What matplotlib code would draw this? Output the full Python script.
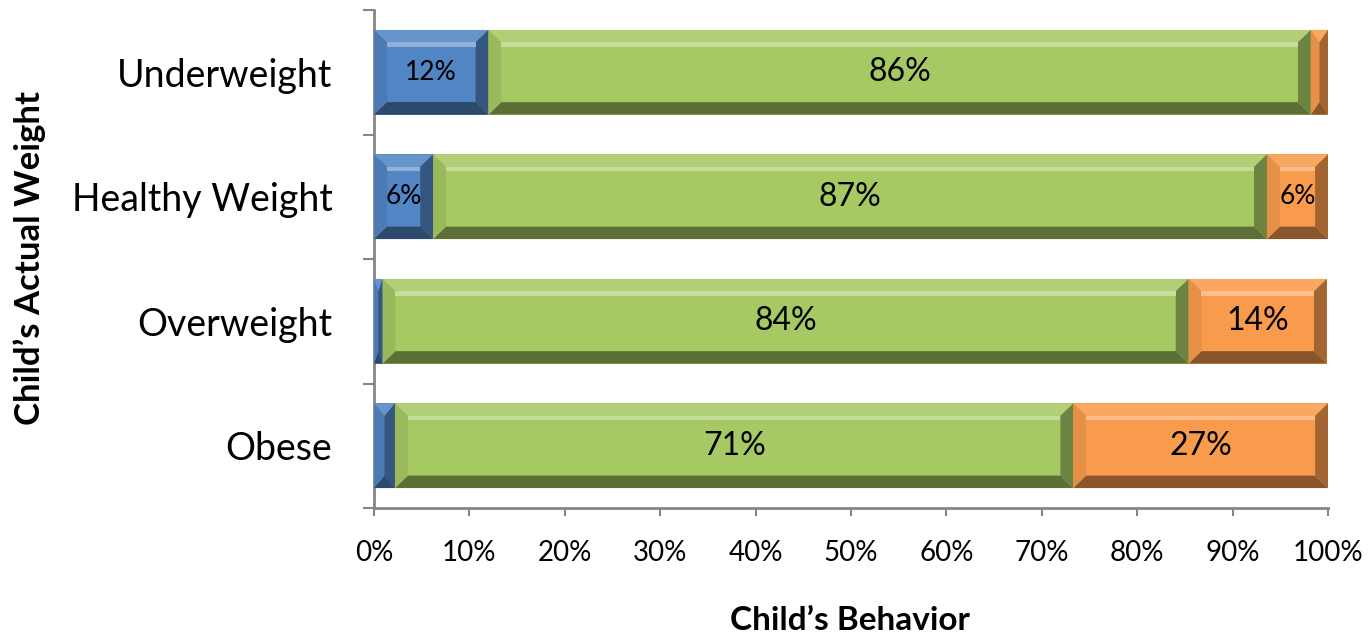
import matplotlib.pyplot as plt
from matplotlib.patches import Polygon
from matplotlib.colors import to_rgb
import numpy as np

plt.rcParams['font.family'] = ['Lato', 'DejaVu Sans']

# Survey shares per weight group (percent)
categories = ["Underweight", "Healthy Weight", "Overweight", "Obese"]
series_names = ["Under", "About right", "Over"]
under = [12.0, 6.2, 0.9, 2.2]
about_right = [86.2, 87.4, 84.49, 71.1]
over = [1.8, 6.4, 14.49, 26.7]
x_ticks = [0, 10, 20, 30, 40, 50, 60, 70, 80, 90, 100]

colors = ["#5185C4", "#A7C964", "#F99B4D"]


def mix(c, other, t):
    c = np.array(to_rgb(c))
    return tuple(c * (1 - t) + np.array(other) * t)


def add_bevel(ax, bar, color, bx=1.35, by=0.1):
    # fake Excel bevel: four trapezoids around an inset face
    # (y axis is inverted, so the smaller y value is the visual top)
    x0, w = bar.get_x(), bar.get_width()
    y0, h = bar.get_y(), bar.get_height()
    x1, y1 = x0 + w, y0 + h
    ix = min(bx, w / 2)
    iy = by
    top_l, top_r, bot_r, bot_l = (x0, y0), (x1, y0), (x1, y1), (x0, y1)
    itl, itr = (x0 + ix, y0 + iy), (x1 - ix, y0 + iy)
    ibr, ibl = (x1 - ix, y1 - iy), (x0 + ix, y1 - iy)
    white, black = (1, 1, 1), (0, 0, 0)
    faces = [
        ([top_l, top_r, itr, itl], mix(color, white, 0.12)),   # top
        ([bot_l, bot_r, ibr, ibl], mix(color, black, 0.45)),   # bottom
        ([top_l, itl, ibl, bot_l], mix(color, black, 0.08)),   # left
        ([top_r, bot_r, ibr, itr], mix(color, black, 0.35)),   # right
    ]
    for pts, fc in faces:
        ax.add_patch(Polygon(pts, closed=True, facecolor=fc, edgecolor='none', zorder=3))
    # thin highlight just below the top bevel
    if w > 2 * bx:
        hl = [itl, itr, (itr[0], itr[1] + 0.035), (itl[0], itl[1] + 0.035)]
        ax.add_patch(Polygon(hl, closed=True, facecolor=mix(color, white, 0.35),
                             edgecolor='none', zorder=3))


fig = plt.figure(figsize=(13.7, 6.37), dpi=100)
ax = fig.add_axes([374 / 1370, 1 - 508 / 637, 954 / 1370, 498 / 637])

y = np.arange(len(categories))
left = np.zeros(len(categories))
for name, vals, col in zip(series_names, [under, about_right, over], colors):
    bars = ax.barh(y, vals, left=left, height=0.68, color=col, edgecolor='none', zorder=2, label=name)
    for bar, v in zip(bars, vals):
        add_bevel(ax, bar, col)
        if v >= 3:
            size = 19 if v < 13 else 23
            ax.text(bar.get_x() + bar.get_width() / 2, bar.get_y() + bar.get_height() / 2,
                    f"{round(v)}%", ha='center', va='center', fontsize=size, color='black', zorder=4)
    left += np.array(vals)

ax.set_xlim(0, 100)
ax.set_ylim(len(categories) - 0.5, -0.5)

ax.set_xticks(x_ticks)
ax.set_xticklabels([f"{t}%" for t in x_ticks], fontsize=20)
ax.set_yticks(y)
ax.set_yticklabels(categories, fontsize=27)
ax.set_yticks(np.arange(-0.5, len(categories)), minor=True)
ax.tick_params(axis='y', which='major', length=0, pad=30)
ax.tick_params(axis='y', which='minor', length=8, width=1.5, color='#868686')
ax.tick_params(axis='x', which='major', length=6, width=1.5, color='#868686', pad=17)

for s in ['top', 'right']:
    ax.spines[s].set_visible(False)
for s in ['left', 'bottom']:
    ax.spines[s].set_color('#868686')
    ax.spines[s].set_linewidth(2)

fig.text(30 / 1370, 1 - 258 / 637, "Child\u2019s Actual Weight", rotation=90,
         ha='center', va='center', fontsize=25, fontweight='bold')
fig.text(850 / 1370, 1 - 620 / 637, "Child\u2019s Behavior",
         ha='center', va='center', fontsize=24, fontweight='bold')

fig.savefig("out.png", dpi=100)
